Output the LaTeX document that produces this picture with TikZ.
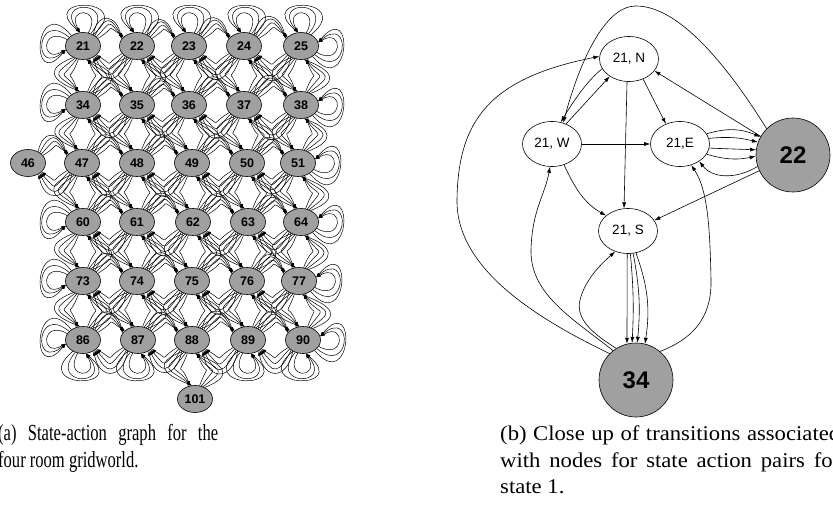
\documentclass[tikz,border=0pt]{standalone}
\usepackage{fontspec}
\setmainfont{Liberation Serif}
\newfontfamily\hv{Liberation Sans}
\newfontfamily\capnarrow{Liberation Serif}[FakeStretch=0.72]
\newfontfamily\capwide{Liberation Serif}[FakeStretch=1.08]
\usetikzlibrary{shapes.geometric,arrows.meta}

\definecolor{stategray}{RGB}{160,160,160}

\begin{document}
\begin{tikzpicture}[x=1pt,y=1pt,
        state/.style={ellipse, draw, fill=stategray, line width=0.6pt,
                      minimum width=35pt, minimum height=27pt, inner sep=0pt,
                      font=\hv\bfseries\fontsize{12.5}{14}\selectfont},
        pair/.style={ellipse, draw, line width=0.6pt, minimum width=59pt,
                     minimum height=45pt, inner sep=0pt,
                     font=\hv\fontsize{13.5}{15}\selectfont},
        bigstate/.style={circle, draw, fill=stategray, line width=0.6pt,
                         minimum size=74pt, inner sep=0pt,
                         font=\hv\bfseries\fontsize{24}{26}\selectfont},
        move/.style={-{Latex[length=4.5pt,width=3.5pt]}, line width=0.5pt},
        link/.style={-{Latex[length=6pt,width=4pt]}, line width=0.6pt},
        caption/.style={anchor=base west, inner sep=0pt}]

    \useasboundingbox (0,0) rectangle (833,-524);

    % (a) state-action graph
    \foreach \n/\x/\y in {21/83/46, 22/137/46, 23/189/46, 24/244/46, 25/301/46,
                          34/83/105, 35/137/105, 36/189/105, 37/244/105, 38/301/105,
                          46/28/163, 47/82/163, 48/137/163, 49/192/163, 50/247/163, 51/298/163,
                          60/83/222, 61/137/222, 62/193/222, 63/248/222, 64/301/222,
                          73/83/281, 74/137/281, 75/192/281, 76/247/281, 77/299/281,
                          86/83/340, 87/138/340, 88/192/340, 89/248/340, 90/303/340,
                          101/195/399}
        \node[state] (n\n) at (\x,-\y) {\n};

    % up and down
    \foreach \u/\l in {21/34, 22/35, 23/36, 24/37, 25/38, 34/47, 35/48, 36/49, 37/50, 38/51,
                       47/60, 48/61, 49/62, 50/63, 51/64, 60/73, 61/74, 62/75, 63/76, 64/77,
                       73/86, 74/87, 75/88, 76/89, 77/90, 88/101}
        \foreach \k in {1,...,4} {
            \draw[move] (n\u.{258-7*\k}) to[out={265-16*\k}, in={95+16*\k}, looseness=2.3] (n\l.{114-3*\k});
            \draw[move] (n\l.{78-7*\k}) to[out={85-16*\k}, in={-85+16*\k}, looseness=2.3] (n\u.{-66-3*\k});
        }

    % left and right
    \foreach \a/\b in {21/22, 22/23, 23/24, 24/25, 34/35, 35/36, 36/37, 37/38,
                       46/47, 47/48, 48/49, 49/50, 50/51, 60/61, 61/62, 62/63, 63/64,
                       73/74, 74/75, 75/76, 76/77, 86/87, 87/88, 88/89, 89/90}
        \foreach \k in {1,...,4} {
            \draw[move] (n\a.{20+7*\k}) to[out={15+16*\k}, in={165-16*\k}, looseness=2.2] (n\b.{140+4*\k});
            \draw[move] (n\b.{200+7*\k}) to[out={195+16*\k}, in={-15-16*\k}, looseness=2.2] (n\a.{-30-4*\k});
        }

    % walls
    \foreach \n/\d in {21/90, 22/90, 23/90, 24/90, 25/90, 21/180, 34/180, 60/180, 73/180, 86/180,
                       25/0, 38/0, 51/0, 64/0, 77/0, 90/0, 86/270, 87/270, 89/270, 90/270}
        \foreach \k in {1,2,3}
            \draw[move] (n\n.{\d-12-10*\k}) to[out={\d-20-10*\k}, in={\d+20+10*\k},
                distance={(16+14*\k)*1pt}] (n\n.{\d+12});

    % (b) close up
    \node[pair] (sN) at (629,-59) {21, N};
    \node[pair] (sW) at (552,-144) {21, W};
    \node[pair] (sE) at (680,-144) {21,E};
    \node[pair] (sS) at (628,-231) {21, S};
    \node[bigstate] (s22) at (793,-155) {22};
    \node[bigstate] (s34) at (636,-380) {34};

    \draw[link] (s34.135) .. controls (540,-320) and (456,-270) .. (457,-200)
        .. controls (458,-120) and (490,-78) .. (sN.175);
    \draw[link] (s34.128) .. controls (575,-320) and (530,-295) .. (531,-250)
        .. controls (532,-210) and (545,-195) .. (sW.265);
    \draw[link] (s34.122) .. controls (595,-335) and (575,-320) .. (580,-300)
        .. controls (585,-280) and (600,-265) .. (sS.238);
    \foreach \a/\b/\c in {268/104/0, 276/96/4, 283/88/8, 290/76/14}
        \draw[link] (sS.\a) to[bend left=\c] (s34.\b);
    \draw[link] (s34.50) .. controls (690,-340) and (712,-320) .. (711,-280)
        .. controls (710,-230) and (708,-190) .. (sE.298);

    \draw[link] (s22.135) .. controls (730,-70) and (680,-5) .. (635,-6)
        .. controls (605,-7) and (580,-60) .. (sW.62);
    \draw[link] (sN.200) .. controls (588,-80) and (574,-100) .. (sW.68);
    \draw[link] (sW.55) -- (sN.222);
    \draw[link] (sN.305) -- (sE.125);
    \draw[link] (sN.265) -- (sS.100);
    \draw[link] (sW) -- (sE);
    \draw[link] (sW.300) to[out=-65, in=150] (sS.145);
    \draw[link] (s22.205) -- (sS.22);
    \draw[link] (s22.198) .. controls (735,-180) and (712,-178) .. (sE.318);
    \draw[link] (s22.150) -- (sN.335);
    \foreach \a/\b/\c in {21/151/20, 11/160/10, -8/172/0, -21/182/-14}
        \draw[link] (sE.\a) to[bend left=\c] (s22.\b);

    % captions
    \node[caption, font=\capnarrow\fontsize{23}{26.5}\selectfont] (capA1) at (-2,-440)
        {\makebox[220pt][s]{(a) State-action graph for the}};
    \node[caption, font=\capnarrow\fontsize{23}{26.5}\selectfont] (capA2) at (-2,-467)
        {four room gridworld.};
    \node[caption, font=\capwide\fontsize{21}{26.5}\selectfont] (capB1) at (500,-440)
        {\makebox[340pt][s]{(b) Close up of transitions associated}};
    \node[caption, font=\capwide\fontsize{21}{26.5}\selectfont] (capB2) at (500,-467)
        {\makebox[340pt][s]{with nodes for state action pairs for}};
    \node[caption, font=\capwide\fontsize{21}{26.5}\selectfont] (capB3) at (500,-493)
        {state 1.};
\end{tikzpicture}
\end{document}
